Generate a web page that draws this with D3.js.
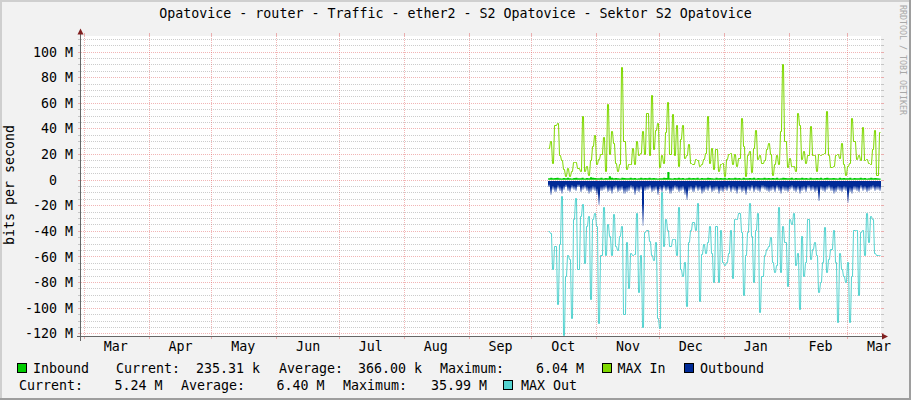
<!DOCTYPE html>
<html><head><meta charset="utf-8">
<script src="https://cdn.jsdelivr.net/npm/d3@7"></script>
<style>
html,body{margin:0;padding:0;background:#F2F2F2;}
svg{display:block;}
text{font-family:"DejaVu Sans Mono",monospace;fill:#000;}
</style></head><body>
<svg id="chart" width="911" height="400"></svg>
<script>
// ---------------- data ----------------
const title = "Opatovice - router - Traffic - ether2 - S2 Opatovice - Sektor S2 Opatovice";
const yAxisTitle = "bits per second";
const watermark = "RRDTOOL / TOBI OETIKER";
const firstSample = [2014, 9, 9];           // Oct 9, one sample per day
const monthLabels = ["Mar","Apr","May","Jun","Jul","Aug","Sep","Oct","Nov","Dec","Jan","Feb","Mar"];
const yTicks = [-120,-100,-80,-60,-40,-20,0,20,40,60,80,100];
const yTickLabels = ["-120 M","-100 M","-80 M","-60 M","-40 M","-20 M","0  ","20 M","40 M","60 M","80 M","100 M"];

// values in M bits/s
const maxIn = [25,30,13,43,44,19,15,8,3,9,3,7,14,14,9,7,50,7,11,4,15,26,35,12,16,20,33,7,59,20,38,29,13,7,12,88,30,8,12,12,25,12,30,19,21,38,20,52,19,66,24,39,44,
10,19,13,37,61,20,51,19,43,11,32,43,17,19,28,13,12,16,15,11,12,16,21,50,13,25,8,24,7,12,13,3,16,20,21,12,20,11,17,48,26,3,19,22,6,25,39,16,19,13,15,24,29,
20,4,12,19,12,38,90,30,10,17,11,11,7,52,43,16,22,13,19,42,19,19,7,20,19,20,21,54,19,10,11,19,20,17,29,12,4,11,13,48,30,16,19,15,41,15,16,13,12,24,39,4,37];
const maxOut = [-40,-42,-70,-52,-97,-50,-13,-121,-75,-59,-62,-108,-31,-14,-70,-28,-19,-65,-36,-28,-93,-31,-26,-36,-112,-59,-21,-59,-35,-44,-59,-27,-52,-55,-44,-36,-105,-49,-85,-57,-59,-58,-26,-88,-59,-115,-41,-39,-48,-59,-63,-49,-108,
-116,-10,-52,-31,-39,-52,-46,-46,-59,-21,-70,-75,-64,-99,-49,-39,-33,-39,-18,-95,-58,-50,-57,-49,-36,-57,-80,-36,-80,-39,-64,-67,-64,-57,-39,-77,-31,-31,-26,-41,-90,-59,-41,-18,-44,-80,-39,-26,-103,-75,-59,-54,-52,
-45,-64,-72,-67,-21,-72,-36,-49,-83,-31,-35,-26,-67,-57,-101,-44,-75,-64,-31,-62,-54,-49,-59,-88,-80,-64,-37,-72,-62,-54,-39,-64,-111,-57,-70,-75,-80,-64,-111,-75,-39,-39,-90,-41,-39,-59,-26,-49,-28,-31,-57,-59,-59];
const outbound = [-6,-12,-8,-10,-7,-9,-11,-8,-6,-9,-10,-7,-8,-9,-6,-10,-8,-7,-9,-11,-10,-8,-9,-12,-20,-9,-8,-7,-10,-9,-11,-8,-7,-10,-9,-8,-11,-10,-9,-7,-8,-12,-9,-10,-8,-36,-9,-8,-7,-10,-9,-8,-12,
-8,-10,-7,-9,-8,-11,-9,-7,-8,-10,-9,-8,-12,-16,-9,-8,-10,-7,-9,-8,-11,-10,-8,-9,-7,-10,-9,-8,-11,-9,-10,-8,-9,-7,-10,-8,-9,-11,-8,-10,-9,-12,-8,-9,-7,-10,-8,-9,-10,-7,-8,-9,-10,
-9,-8,-10,-7,-9,-11,-8,-9,-10,-8,-7,-9,-10,-8,-11,-9,-8,-10,-7,-9,-8,-10,-9,-17,-8,-9,-10,-8,-7,-9,-11,-10,-8,-9,-10,-8,-9,-18,-10,-11,-8,-9,-10,-7,-9,-8,-10,-9,-8,-7,-9,-8,-9];
const inbound = [1.2,1.4,1.1,1.3,1.5,1.2,1.0,1.3,1.1,1.4,1.2,1.0,1.3,1.5,1.1,1.2,1.4,1.0,1.3,1.2,1.8,1.5,1.3,1.1,1.2,1.4,1.0,1.3,1.2,2.6,1.4,1.1,1.3,1.2,1.0,1.5,1.3,1.2,1.1,1.4,1.2,1.3,1.0,1.2,1.4,1.1,1.3,1.2,1.5,1.1,1.3,1.2,1.0,
1.2,1.1,1.4,1.3,6.0,1.2,1.0,1.3,1.1,1.4,1.2,1.3,1.0,1.2,1.5,1.1,1.3,1.2,1.4,1.0,1.3,1.1,1.2,1.5,1.3,1.2,1.0,1.4,1.1,1.3,1.2,1.4,1.0,1.3,1.2,1.1,1.5,1.2,1.3,1.0,1.4,1.2,1.1,1.3,1.2,1.5,1.0,1.3,1.2,1.1,1.4,1.2,1.3,
1.1,1.3,1.2,1.4,1.0,1.2,1.5,1.3,1.1,1.2,1.4,1.0,1.3,1.2,1.1,1.5,1.2,1.3,1.0,1.4,1.2,1.1,1.3,1.2,1.4,1.0,1.3,1.5,1.2,1.1,1.3,1.2,1.0,1.4,1.2,1.3,1.1,1.2,1.5,1.0,1.3,1.2,1.1,1.4,1.2,1.3,1.0,1.2,1.4,1.1,1.3,1.2,0.9];

const seriesNames = ["Inbound","MAX In","Outbound","MAX Out"];
const seriesColors = ["#00CC00","#7FD800","#002A97","#55D3D0"];
const inboundStats = ["235.31 k","366.00 k","6.04 M"];
const outboundStats = ["5.24 M","6.40 M","35.99 M"];

// ---------------- chart ----------------
const svg = d3.select("#chart");
const W = 911, H = 400;
const P = {left:81, right:881, top:36, bottom:336};
const FONT = "'DejaVu Sans Mono', monospace";
const FS = 13.3;

const x = d3.scaleUtc()
  .domain([new Date(Date.UTC(2014,3,1)), new Date(Date.UTC(2015,2,1))])
  .range([148.7, 847.2]);
const y = d3.scaleLinear().domain([-122.1, 112.2]).range([P.bottom, P.top]);

const dates = maxIn.map((_, i) => new Date(Date.UTC(firstSample[0], firstSample[1], firstSample[2] + i)));
const endDate = d3.utcDay.offset(dates[dates.length-1], 1);
const mk = arr => arr.map((v,i)=>({date:dates[i], v})).concat([{date:endDate, v:arr[arr.length-1]}]);
// per-pixel rasterised run for each sample (like rrdtool): start and end pixel of each day
const runs = arr => {
  const pts = [];
  arr.forEach((v,i) => {
    const a = Math.round(x(dates[i])) + 0.5;
    const b = Math.round(x(d3.utcDay.offset(dates[i],1))) - 0.5;
    pts.push({px:a, v}); if (b > a) pts.push({px:b, v});
  });
  return pts;
};

// background + frame
svg.append("rect").attr("width",W).attr("height",H).attr("fill","#F2F2F2");
const frame = svg.append("g").attr("shape-rendering","crispEdges");
frame.append("rect").attr("x",0).attr("y",0).attr("width",W).attr("height",2).attr("fill","#CFCFCF");
frame.append("rect").attr("x",0).attr("y",0).attr("width",2).attr("height",H).attr("fill","#CFCFCF");
frame.append("rect").attr("x",0).attr("y",H-2).attr("width",W).attr("height",2).attr("fill","#9E9E9E");
frame.append("rect").attr("x",W-2).attr("y",0).attr("width",2).attr("height",H).attr("fill","#9E9E9E");

// canvas
svg.append("rect").attr("x",P.left).attr("y",P.top).attr("width",P.right-P.left).attr("height",P.bottom-P.top).attr("fill","#FFFFFF");

svg.append("defs").html(`
  <clipPath id="clip"><rect x="${P.left}" y="${P.top}" width="${P.right-P.left}" height="${P.bottom-P.top}"/></clipPath>
  <linearGradient id="outGrad" x1="0" y1="0" x2="0" y2="1">
    <stop offset="0" stop-color="${seriesColors[2]}" stop-opacity="1"/>
    <stop offset="0.5" stop-color="${seriesColors[2]}" stop-opacity="1"/>
    <stop offset="1" stop-color="${seriesColors[2]}" stop-opacity="0.15"/>
  </linearGradient>`);

// grid
const grid = svg.append("g").attr("shape-rendering","crispEdges");
const minorVals = d3.range(-120, 112.2, 5).filter(v => v % 20 !== 0);
const minorC = "rgba(143,143,143,0.45)", majorC = "rgba(222,79,79,0.42)";
minorVals.forEach(v => {
  const yy = Math.round(y(v)) + 0.5;
  grid.append("line").attr("x1",P.left).attr("x2",P.right).attr("y1",yy).attr("y2",yy)
    .attr("stroke",minorC).attr("stroke-dasharray","1,1");
  grid.append("line").attr("x1",P.left-3).attr("x2",P.left).attr("y1",yy).attr("y2",yy).attr("stroke",minorC);
  grid.append("line").attr("x1",P.right).attr("x2",P.right+3).attr("y1",yy).attr("y2",yy).attr("stroke",minorC);
});
yTicks.forEach(v => {
  const yy = Math.round(y(v)) + 0.5;
  grid.append("line").attr("x1",P.left).attr("x2",P.right).attr("y1",yy).attr("y2",yy)
    .attr("stroke",majorC).attr("stroke-dasharray","1,1");
  grid.append("line").attr("x1",P.left-3).attr("x2",P.left).attr("y1",yy).attr("y2",yy).attr("stroke",majorC);
  grid.append("line").attr("x1",P.right).attr("x2",P.right+3).attr("y1",yy).attr("y2",yy).attr("stroke",majorC);
});
const monthStarts = d3.utcMonth.range(new Date(Date.UTC(2014,2,1)), new Date(Date.UTC(2015,2,2)));
monthStarts.forEach(m => {
  const xx = Math.round(x(m)) + 0.5;
  if (xx < P.left || xx > P.right) return;
  grid.append("line").attr("x1",xx).attr("x2",xx).attr("y1",P.top).attr("y2",P.bottom)
    .attr("stroke",majorC).attr("stroke-dasharray","1,1");
  grid.append("line").attr("x1",xx).attr("x2",xx).attr("y1",P.top-3).attr("y2",P.top).attr("stroke",majorC);
  grid.append("line").attr("x1",xx).attr("x2",xx).attr("y1",P.bottom).attr("y2",P.bottom+3).attr("stroke",majorC);
});

// data
const dataG = svg.append("g").attr("clip-path","url(#clip)");
const y0 = y(0);
// inbound area
dataG.append("path").datum(mk(inbound))
  .attr("d", d3.area().x(d=>x(d.date)).y0(y0).y1(d=>y(d.v)).curve(d3.curveStepAfter))
  .attr("fill", seriesColors[0]);
// outbound columns with fading gradient
dataG.append("g").attr("shape-rendering","crispEdges").selectAll("rect").data(outbound).join("rect")
  .attr("x", (d,i)=>Math.round(x(dates[i])))
  .attr("width", (d,i)=>Math.round(x(d3.utcDay.offset(dates[i],1))) - Math.round(x(dates[i])))
  .attr("y", Math.round(y0)+1)
  .attr("height", d => Math.max(1, y(d) - Math.round(y0) - 1))
  .attr("fill","url(#outGrad)");
// max lines, rasterised per pixel run
const line = d3.line().x(d=>d.px).y(d=>Math.round(y(d.v))+0.5);
dataG.append("path").datum(runs(maxIn)).attr("d", line)
  .attr("fill","none").attr("stroke",seriesColors[1]).attr("stroke-width",1);
dataG.append("path").datum(runs(maxOut)).attr("d", line)
  .attr("fill","none").attr("stroke",seriesColors[3]).attr("stroke-width",1);

// axes lines + arrows
const ax = svg.append("g").attr("shape-rendering","crispEdges");
ax.append("line").attr("x1",80.5).attr("x2",80.5).attr("y1",32).attr("y2",341).attr("stroke","#666");
ax.append("line").attr("x1",77).attr("x2",884).attr("y1",336.5).attr("y2",336.5).attr("stroke","#666");
svg.append("path").attr("d","M80.5,28.5 L83.5,34.5 L77.5,34.5 Z").attr("fill","#801F1F");
svg.append("path").attr("d","M888,336.5 L882,333.5 L882,339.5 Z").attr("fill","#801F1F");

// y tick labels
const yAx = svg.append("g").attr("transform","translate(73,0)")
  .call(d3.axisLeft(y).tickValues(yTicks).tickSize(0).tickPadding(0)
    .tickFormat((d,i)=>yTickLabels[i]));
yAx.select(".domain").remove();
yAx.attr("font-family",FONT).attr("font-size",FS);
yAx.selectAll("text").attr("xml:space","preserve").attr("dy","0.34em").attr("fill","#000");

// x month labels
const labelDates = monthStarts.map(m => d3.utcDay.offset(m, 15));
const xAx = svg.append("g").attr("transform",`translate(0,${P.bottom})`)
  .call(d3.axisBottom(x).tickValues(labelDates).tickSize(0).tickPadding(6)
    .tickFormat((d,i)=>monthLabels[i]));
xAx.select(".domain").remove();
xAx.attr("font-family",FONT).attr("font-size",FS);
xAx.selectAll("text").attr("fill","#000");

// title
svg.append("text").attr("x",455.5).attr("y",18).attr("text-anchor","middle")
  .attr("font-size",FS).text(title);
// y axis title
svg.append("text").attr("transform","translate(14,185) rotate(-90)").attr("text-anchor","middle")
  .attr("font-size",FS).text(yAxisTitle);
// watermark
svg.append("text").attr("transform","translate(900,5) rotate(90)")
  .attr("font-size",8.3).style("fill","#A8A8A8").text(watermark);

// legend
const lg = svg.append("g").attr("font-size",FS);
function box(xp, yp, c){
  lg.append("rect").attr("x",xp+0.5).attr("y",yp+0.5).attr("width",9).attr("height",9)
    .attr("fill",c).attr("stroke","#000").attr("stroke-width",1).attr("shape-rendering","crispEdges");
}
function txt(xp, yp, s){ lg.append("text").attr("x",xp).attr("y",yp).attr("xml:space","preserve").text(s); }
const r1 = 372.5, r2 = 389.5;
box(17, 363, seriesColors[0]); txt(33, r1, seriesNames[0]);
txt(116, r1, "Current:"); txt(196, r1, inboundStats[0]);
txt(279, r1, "Average:"); txt(358, r1, inboundStats[1]);
txt(440, r1, "Maximum:"); txt(536, r1, inboundStats[2]);
box(602, 363, seriesColors[1]); txt(617.5, r1, seriesNames[1]);
box(684, 363, seriesColors[2]); txt(700, r1, seriesNames[2]);
txt(19, r2, "Current:"); txt(114.5, r2, outboundStats[0]);
txt(181, r2, "Average:"); txt(276.5, r2, outboundStats[1]);
txt(343, r2, "Maximum:"); txt(431, r2, outboundStats[2]);
box(503, 380, seriesColors[3]); txt(521, r2, seriesNames[3]);
</script>
</body></html>
